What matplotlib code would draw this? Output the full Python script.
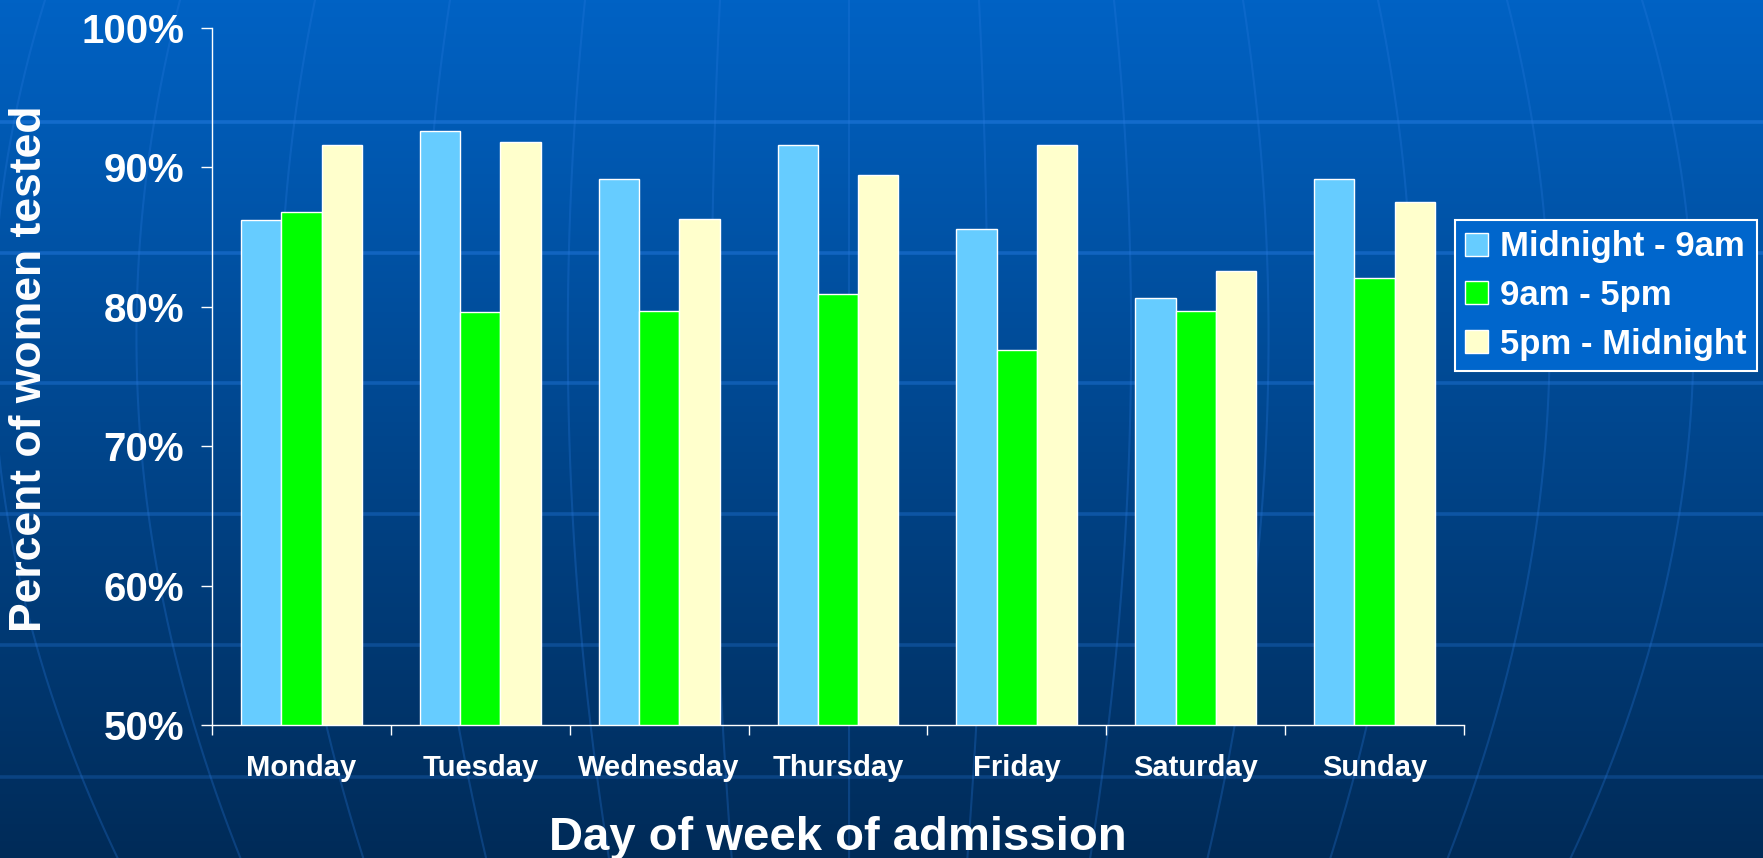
import numpy as np
import matplotlib
matplotlib.use("Agg")
import matplotlib.pyplot as plt
from matplotlib.ticker import FixedLocator, FuncFormatter

plt.rcParams['font.family'] = ['Liberation Sans', 'DejaVu Sans']
plt.rcParams['font.weight'] = 'bold'

# data
days = ['Monday', 'Tuesday', 'Wednesday', 'Thursday', 'Friday', 'Saturday', 'Sunday']
series_names = ['Midnight - 9am', '9am - 5pm', '5pm - Midnight']
midnight_9am = [86.2, 92.6, 89.2, 91.6, 85.6, 80.65, 89.2]
am9_pm5 = [86.8, 79.6, 79.7, 80.9, 76.9, 79.7, 82.05]
pm5_midnight = [91.6, 91.8, 86.3, 89.45, 91.6, 82.6, 87.5]
y_ticks = [50, 60, 70, 80, 90, 100]

colors = ['#66CCFF', '#00FF00', '#FFFFCC']

W, H = 1763, 858
fig = plt.figure(figsize=(W / 100, H / 100), dpi=100)

# background: blue gradient with faint globe lines
bg = fig.add_axes([0, 0, 1, 1], zorder=-10)
top = np.array([0x00, 0x62, 0xC4]) / 255
bot = np.array([0x00, 0x2B, 0x58]) / 255
t = np.linspace(0, 1, 256)[:, None, None]
grad = top * (1 - t) + bot * t
bg.imshow(np.repeat(grad, 2, axis=1), extent=(0, W, H, 0), aspect='auto')
for yy in [122, 253, 383, 514, 645, 777]:
    bg.plot([0, W], [yy, yy], color='#2A80E8', alpha=0.5 - yy / 3000, lw=2.6)
ys = np.linspace(0, H, 200)
f = 1 + 3.857e-4 * ys - 5.72e-7 * ys ** 2
for x0 in [45, 180, 315, 450, 585, 720, 849, 979, 1114, 1243, 1378, 1507, 1642]:
    bg.plot(850 + (x0 - 850) * f, ys, color='#2A7BE0', alpha=0.28, lw=1.5)
bg.set_xlim(0, W)
bg.set_ylim(H, 0)
bg.axis('off')

# main chart
ax = fig.add_axes([212 / W, 1 - 725 / H, (1464 - 212) / W, (725 - 28) / H])
ax.set_facecolor('none')

x = np.arange(len(days)) + 0.5
width = 0.225
for i, (vals, name) in enumerate(zip([midnight_9am, am9_pm5, pm5_midnight], series_names)):
    ax.bar(x + (i - 1) * width, np.array(vals) - 50, width, bottom=50,
           color=colors[i], edgecolor='white', linewidth=1.0, label=name, zorder=3)

ax.set_xlim(0, len(days))
ax.set_ylim(50, 100)

ax.xaxis.set_major_locator(FixedLocator(np.arange(len(days) + 1)))
ax.xaxis.set_major_formatter(FuncFormatter(lambda v, p: ''))
ax.set_xticks(x, minor=True)
ax.set_xticklabels(days, minor=True)
ax.tick_params(axis='x', which='major', direction='out', length=7, width=1, color='white')
ax.tick_params(axis='x', which='minor', length=0, pad=21, labelsize=21, labelcolor='white')

ax.set_yticks(y_ticks)
ax.set_yticklabels([f'{v}%' for v in y_ticks])
ax.tick_params(axis='y', direction='out', length=8, width=1, color='white',
               pad=12, labelsize=29, labelcolor='white')

for s in ['top', 'right']:
    ax.spines[s].set_visible(False)
for s in ['left', 'bottom']:
    ax.spines[s].set_color('white')
    ax.spines[s].set_linewidth(1.0)

fig.text(30 / W, 1 - 369 / H, 'Percent of women tested', rotation=90,
         ha='center', va='center', fontsize=32, color='white', fontweight='bold')
fig.text(838 / W, 8 / H, 'Day of week of admission', ha='center', va='baseline',
         fontsize=34, color='white', fontweight='bold')

leg = ax.legend(loc='upper left', bbox_to_anchor=(1455 / W, 1 - 220 / H),
                bbox_transform=fig.transFigure, borderaxespad=0, fontsize=25,
                frameon=True, fancybox=False, framealpha=1, borderpad=0.3,
                labelspacing=0.45, handlelength=0.65, handleheight=0.65,
                handletextpad=0.35)
leg.get_frame().set_facecolor('#0066CC')
leg.get_frame().set_edgecolor('white')
leg.get_frame().set_linewidth(1.5)
for txt in leg.get_texts():
    txt.set_color('white')

fig.savefig('out.png', dpi=100)
